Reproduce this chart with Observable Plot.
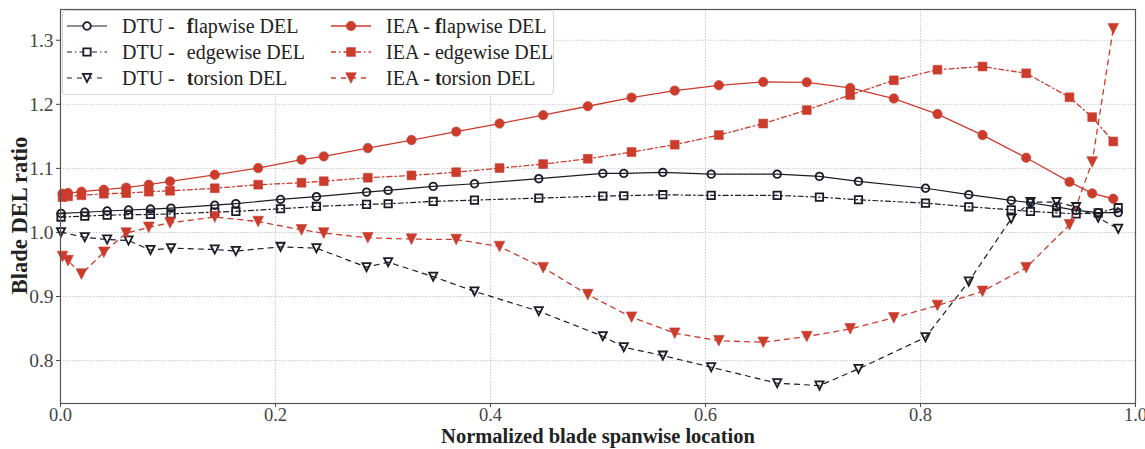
<!DOCTYPE html>
<html>
<head>
<meta charset="utf-8">
<script src="https://cdn.jsdelivr.net/npm/d3@7"></script>
<script src="https://cdn.jsdelivr.net/npm/@observablehq/plot@0.6"></script>
<style>
  html, body { margin: 0; padding: 0; background: #fff; }
  #wrap { position: relative; width: 1145px; height: 449px; font-family: "Liberation Serif", "DejaVu Serif", serif; }
  #legend { position: absolute; left: 62px; top: 10px; width: 492px; height: 85px;
    background: rgba(255,255,255,0.88); border: 1px solid #d4d4d4; border-radius: 4px; box-sizing: border-box; }
  .li { position: absolute; height: 22px; display: flex; align-items: center; font-size: 20px; color: #222; white-space: pre; }
  .li svg { margin-right: 15px; }
  .sp { display: inline-block; width: 7px; }
</style>
</head>
<body>
<div id="wrap"><div id="legend"></div></div>
<script>
// ---------- data ----------
const dtuX = [0.0005, 0.0226, 0.0434, 0.0633, 0.0837, 0.1028, 0.1435, 0.1631, 0.2047, 0.2381,
  0.2847, 0.3048, 0.3467, 0.3851, 0.4449, 0.5045, 0.5240, 0.5603, 0.6053, 0.6667,
  0.7060, 0.7423, 0.8047, 0.8449, 0.8844, 0.9023, 0.9265, 0.9448, 0.9653, 0.9839];
const dtuFlap = [1.0297, 1.0315, 1.0335, 1.0350, 1.0365, 1.0380, 1.0425, 1.0450, 1.0515, 1.0558,
  1.0630, 1.0656, 1.0719, 1.0760, 1.0839, 1.0922, 1.0922, 1.0938, 1.0910, 1.0910,
  1.0875, 1.0797, 1.0690, 1.0590, 1.0500, 1.0464, 1.0400, 1.0344, 1.0310, 1.0310];
const dtuEdge = [1.0240, 1.0255, 1.0270, 1.0276, 1.0280, 1.0290, 1.0318, 1.0328, 1.0370, 1.0406,
  1.0438, 1.0448, 1.0484, 1.0505, 1.0536, 1.0568, 1.0573, 1.0589, 1.0578, 1.0578,
  1.0552, 1.0510, 1.0458, 1.0400, 1.0354, 1.0328, 1.0307, 1.0290, 1.0307, 1.0386];
const dtuTors = [1.0005, 0.9925, 0.9890, 0.9875, 0.9725, 0.9755, 0.9734, 0.9710, 0.9775, 0.9755,
  0.9458, 0.9536, 0.9310, 0.9080, 0.8770, 0.8380, 0.8208, 0.8078, 0.7896, 0.7646,
  0.7610, 0.7870, 0.8364, 0.9234, 1.0214, 1.0474, 1.0474, 1.0396, 1.0230, 1.0057];

const ieaX = [0.0019, 0.0070, 0.0195, 0.0403, 0.0611, 0.0821, 0.1019, 0.1435, 0.1839, 0.2242,
  0.2449, 0.2859, 0.3265, 0.3681, 0.4084, 0.4490, 0.4905, 0.5312, 0.5714, 0.6124,
  0.6537, 0.6942, 0.7346, 0.7752, 0.8158, 0.8577, 0.8983, 0.9386, 0.9597, 0.9793];
const ieaFlap = [1.0605, 1.0615, 1.0636, 1.0667, 1.0700, 1.0745, 1.0797, 1.0900, 1.1005, 1.1136,
  1.1188, 1.1317, 1.1442, 1.1573, 1.1700, 1.1830, 1.1970, 1.2105, 1.2214, 1.2297,
  1.2349, 1.2344, 1.2255, 1.2090, 1.1848, 1.1520, 1.1166, 1.0790, 1.0609, 1.0526];
const ieaEdge = [1.0552, 1.0563, 1.0580, 1.0604, 1.0614, 1.0636, 1.0650, 1.0690, 1.0745, 1.0776,
  1.0800, 1.0854, 1.0890, 1.0940, 1.1005, 1.1067, 1.1150, 1.1255, 1.1370, 1.1520,
  1.1700, 1.1910, 1.2146, 1.2375, 1.2540, 1.2590, 1.2484, 1.2110, 1.1800, 1.1420];
const ieaTors = [0.9625, 0.9560, 0.9350, 0.9690, 0.9990, 1.0080, 1.0150, 1.0240, 1.0170, 1.0040,
  0.9990, 0.9917, 0.9896, 0.9890, 0.9780, 0.9450, 0.9030, 0.8677, 0.8427, 0.8310,
  0.8286, 0.8375, 0.8495, 0.8667, 0.8860, 0.9080, 0.9450, 1.0120, 1.1100, 1.3180];

const xTicks = [0.0, 0.2, 0.4, 0.6, 0.8, 1.0];
const yTicks = [0.8, 0.9, 1.0, 1.1, 1.2, 1.3];
const seriesNames = ["DTU - flapwise DEL", "DTU - edgewise DEL", "DTU - torsion DEL",
                     "IEA - flapwise DEL", "IEA - edgewise DEL", "IEA - torsion DEL"];
const xLabel = "Normalized blade spanwise location";
const yLabel = "Blade DEL ratio";

// ---------- styles ----------
const BLACK = "#1c1c28", RED = "#cb3c2d";
const symCircle = {draw(ctx, size){const r=Math.sqrt(size/Math.PI); ctx.moveTo(r,0); ctx.arc(0,0,r,0,2*Math.PI); ctx.closePath();}};
const symSquare = {draw(ctx, size){const r=Math.sqrt(size/Math.PI); ctx.rect(-r,-r,2*r,2*r);}};
const symTriDown = {draw(ctx, size){const r=Math.sqrt(size/Math.PI); ctx.moveTo(0,r); ctx.lineTo(-r,-r); ctx.lineTo(r,-r); ctx.closePath();}};

const DASH_EDGE = "5,3,1.5,3";
const DASH_TORS = "5,5";
const series = [
  {name: seriesNames[0], xs: dtuX, ys: dtuFlap, color: BLACK, dash: null, sym: symCircle, r: 3.8, open: true, lw: 1.2},
  {name: seriesNames[1], xs: dtuX, ys: dtuEdge, color: BLACK, dash: DASH_EDGE, sym: symSquare, r: 3.7, open: true, lw: 1.2},
  {name: seriesNames[2], xs: dtuX, ys: dtuTors, color: BLACK, dash: DASH_TORS, sym: symTriDown, r: 4.1, open: true, lw: 1.2},
  {name: seriesNames[3], xs: ieaX, ys: ieaFlap, color: RED, dash: null, sym: symCircle, r: 4.7, open: false, lw: 1.3},
  {name: seriesNames[4], xs: ieaX, ys: ieaEdge, color: RED, dash: DASH_EDGE, sym: symSquare, r: 4.4, open: false, lw: 1.3},
  {name: seriesNames[5], xs: ieaX, ys: ieaTors, color: RED, dash: DASH_TORS, sym: symTriDown, r: 5.3, open: false, lw: 1.3}
];

const marks = [
  Plot.gridX(xTicks, {stroke: "#c4c4c4", strokeOpacity: 1, strokeWidth: 0.9, strokeDasharray: "1.5,1.5"}),
  Plot.gridY(yTicks, {stroke: "#c4c4c4", strokeOpacity: 1, strokeWidth: 0.9, strokeDasharray: "1.5,1.5"}),
  Plot.axisX(xTicks, {tickSize: 4, tickPadding: 0, tickFormat: d => d.toFixed(1), label: null, fill: "#444", stroke: "#444", fontSize: 18.5}),
  Plot.axisY(yTicks, {tickSize: 4, tickPadding: 3, tickFormat: d => d.toFixed(1), label: null, fill: "#444", stroke: "#444", fontSize: 19.5}),
];
for (const s of series) {
  const data = s.xs.map((x, i) => ({x, y: s.ys[i]}));
  marks.push(Plot.line(data, {x: "x", y: "y", stroke: s.color, strokeWidth: s.lw, strokeDasharray: s.dash || undefined}));
  marks.push(Plot.dot(data, {x: "x", y: "y", symbol: s.sym, r: s.r,
    fill: s.open ? "none" : s.color, stroke: s.color, strokeWidth: s.open ? 1.8 : 0.6}));
}
marks.push(Plot.frame({stroke: "#555", strokeWidth: 1.2}));
marks.push(Plot.text([xLabel], {text: d => d, frameAnchor: "bottom", textAnchor: "middle", lineAnchor: "bottom", dy: 39, fontWeight: "bold", fontSize: 20.5, fill: "#222"}));
marks.push(Plot.text([yLabel], {text: d => d, frameAnchor: "left", textAnchor: "middle", rotate: -90, dx: -41, dy: 9, fontWeight: "bold", fontSize: 22.5, fill: "#222"}));

const chart = Plot.plot({
  width: 1145, height: 449,
  marginLeft: 60, marginRight: 10, marginTop: 9, marginBottom: 46,
  x: {domain: [0, 1]},
  y: {domain: [0.733, 1.348]},
  style: {fontFamily: "'Liberation Serif', 'DejaVu Serif', serif", fontSize: "19px", background: "#fff", overflow: "visible"},
  marks
});
document.getElementById("wrap").insertBefore(chart, document.getElementById("legend"));

// ---------- legend ----------
const legend = document.getElementById("legend");
function handle(s) {
  const ns = "http://www.w3.org/2000/svg";
  const svg = document.createElementNS(ns, "svg");
  svg.setAttribute("width", 40); svg.setAttribute("height", 14);
  const ln = document.createElementNS(ns, "line");
  ln.setAttribute("x1", 0); ln.setAttribute("x2", 40); ln.setAttribute("y1", 7); ln.setAttribute("y2", 7);
  ln.setAttribute("stroke", s.color); ln.setAttribute("stroke-width", s.lw);
  if (s.dash) ln.setAttribute("stroke-dasharray", s.dash);
  svg.appendChild(ln);
  const p = document.createElementNS(ns, "path");
  p.setAttribute("d", d3.symbol(s.sym, s.r * s.r * Math.PI)());
  p.setAttribute("transform", "translate(20,7)");
  p.setAttribute("fill", s.open ? "#fff" : s.color);
  p.setAttribute("stroke", s.color);
  p.setAttribute("stroke-width", s.open ? 1.8 : 0.6);
  svg.appendChild(p);
  return svg;
}
series.forEach((s, i) => {
  const col = Math.floor(i / 3), row = i % 3;
  const div = document.createElement("div");
  div.className = "li";
  div.style.left = (col === 0 ? 4 : 268) + "px";
  div.style.top = (4 + row * 26) + "px";
  div.appendChild(handle(s));
  const span = document.createElement("span");
  // first letter of the load type is bold in the reference
  const parts = s.name.split(" - ");
  const word = parts[1];
  span.append(parts[0] + " - ");
  if (s.name.startsWith("DTU")) { const gap = document.createElement("span"); gap.className = "sp"; span.append(gap); }
  const b = document.createElement("b"); b.textContent = word[0];
  if (word[0] === "e") { span.append(word); } else { span.append(b); span.append(word.slice(1)); }
  div.appendChild(span);
  legend.appendChild(div);
});
</script>
</body>
</html>
